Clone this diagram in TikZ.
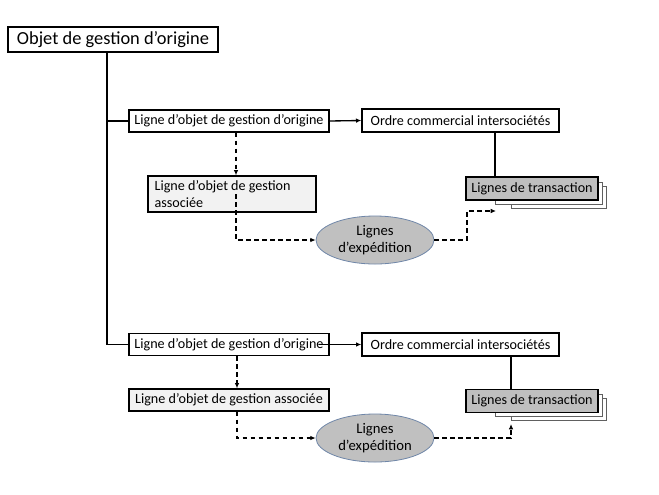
\documentclass[tikz,border=0pt]{standalone}
\usepackage{fontspec}
\setmainfont{Carlito}
\usetikzlibrary{arrows.meta,shapes.geometric}
\definecolor{boxfill}{HTML}{F2F2F2}
\definecolor{tfill}{HTML}{BFBFBF}
\definecolor{efill}{HTML}{C0C0C0}
\definecolor{eborder}{HTML}{6F86A8}
\definecolor{layerborder}{HTML}{606060}
\tikzset{
  box/.style={draw=black, line width=1pt, rectangle, inner sep=0pt,
    font=\fontsize{10.6}{12.4}\selectfont, anchor=center},
  topbox/.style={box, font=\fontsize{13.8}{15.5}\selectfont,
    minimum width=157.5pt, minimum height=18.75pt},
  obox/.style={box, minimum width=150pt, minimum height=16.5pt},
  ocbox/.style={box, minimum width=147.75pt, minimum height=17.25pt},
  cbox/.style={box, fill=boxfill},
  tbox/.style={box, fill=tfill, minimum width=99pt, minimum height=17.25pt},
  ship/.style={ellipse, draw=eborder, line width=0.6pt, fill=efill, inner sep=0pt,
    minimum width=88.5pt, minimum height=36pt, align=center,
    font=\fontsize{11}{13}\selectfont},
  layer/.style={draw=layerborder, line width=0.7pt, fill=white},
  link/.style={line width=1pt, draw=black},
  arr/.style={-{Latex[length=4pt,width=3.5pt]}},
  dlink/.style={line width=1pt, dash pattern=on 3.5pt off 2.5pt, draw=black}
}
\begin{document}
\begin{tikzpicture}[x=0.75pt,y=-0.75pt]
\useasboundingbox (0,0) rectangle (659,494);
\coordinate (trunk) at (107,0);

% top
\node[topbox] (top) at (113,39.5) {Objet de gestion d’origine};

% row 1
\node[obox] (a1) at (229,121) {Ligne d’objet de gestion d’origine};
\node[ocbox] (b1) at (460.5,120.5) {Ordre commercial intersociétés};
\node[cbox, inner xsep=5pt, text width=116pt, align=flush left, minimum height=27pt] (c1) at (232,194) {Ligne d’objet de gestion\\associée};
\node[ship] (e1) at (375,240) {Lignes\\d’expédition};
\draw[layer] (511,186) rectangle (606,208);
\draw[layer] (495,182) rectangle (602,204);
\node[tbox] (t1) at (532,188.5) {Lignes de transaction};

% row 2
\node[obox] (a2) at (229,344.5) {Ligne d’objet de gestion d’origine};
\node[ocbox] (b2) at (460.5,344.5) {Ordre commercial intersociétés};
\node[cbox, minimum width=150pt, minimum height=16.5pt] (c2) at (229,400) {Ligne d’objet de gestion associée};
\node[ship] (e2) at (375,438) {Lignes\\d’expédition};
\draw[layer] (511,398) rectangle (606,420);
\draw[layer] (495,394) rectangle (602,416);
\node[tbox] (t2) at (532,401) {Lignes de transaction};

\coordinate (d1) at (236,0);
\coordinate (d2) at (237,0);
\coordinate (r1) at (467,0);
\coordinate (s1) at (495,0);
\coordinate (s2) at (511,0);
\coordinate (k1) at (496,211);
\coordinate (k2) at (511,424);

% trunk
\draw[link] (top.south -| trunk) |- (a2.west);
\draw[link] (trunk |- a1.west) -- (a1.west);

% row 1 connectors
\draw[link, arr] (a1.east) -- (b1.west);
\draw[link] (b1.south -| s1) -- (t1.north -| s1);
\draw[dlink, arr] (a1.south -| d1) -- (c1.north -| d1);
\draw[dlink, arr] (d1 |- c1.center) |- (e1.west);
\draw[dlink, arr] (e1.east) -| (r1 |- k1) -- (k1);

% row 2 connectors
\draw[link, arr] ([xshift=-8.25pt]a2.east) -- (b2.west);
\draw[link] (b2.south -| s2) -- (t2.north -| s2);
\draw[dlink, arr] (a2.south -| d2) -- (c2.north -| d2);
\draw[dlink, arr] (c2.south -| d2) |- (e2.west);
\draw[dlink, arr] (e2.east) -| (k2);
\end{tikzpicture}
\end{document}
